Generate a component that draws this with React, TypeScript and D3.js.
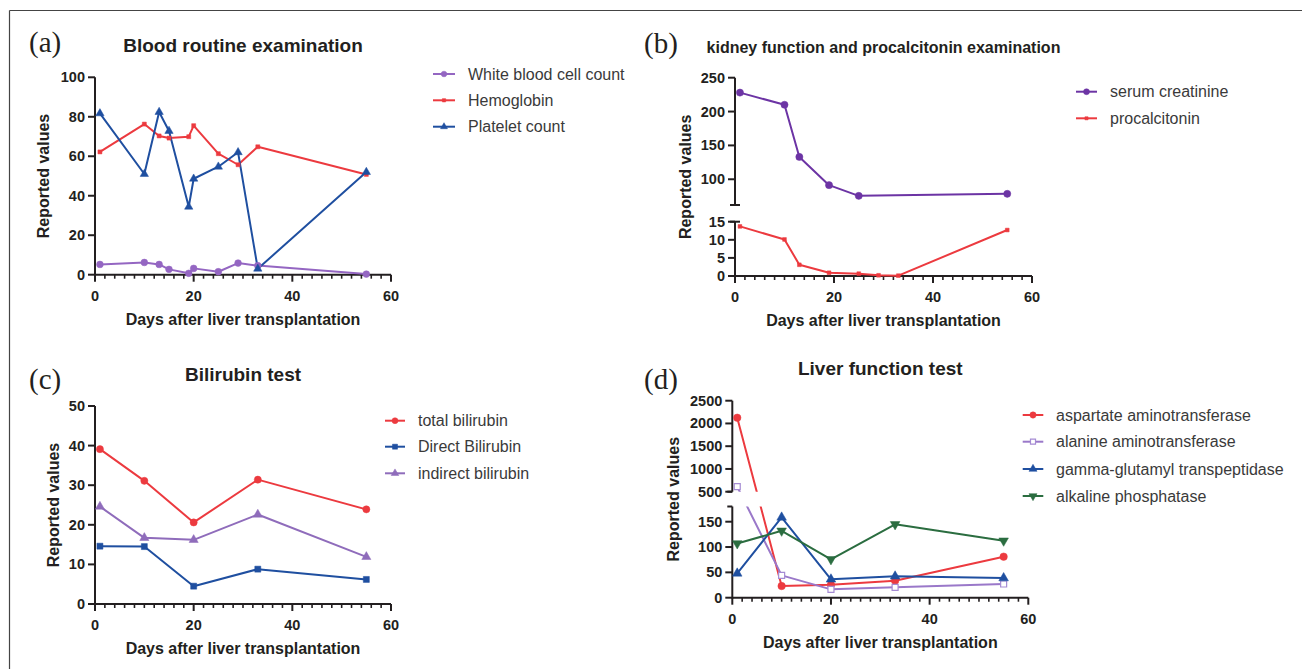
import React from 'react';
import * as d3 from 'd3';

const FONT = "'Liberation Sans', Arial, Helvetica, sans-serif";
const SERIF = "'Liberation Serif', 'Times New Roman', serif";
const INK = '#231f20';
const LEGEND_INK = '#3a3a3a';

const RED = '#ec3a3f';
const BLUE = '#1f4fa0';
const PURPLE = '#9466c2';
const DPURPLE = '#6c34a4';
const LPURPLE = '#a58bd3';
const GREEN = '#2b6d40';

// ---------- data ----------
const X_TICKS = [0, 20, 40, 60];

// (a) Blood routine examination
const A_DAYS = [1, 10, 13, 15, 19, 20, 25, 29, 33, 55];
const WBC = [5.2, 6.2, 5.2, 2.7, 0.7, 3.2, 1.5, 5.9, 4.6, 0.3];
const HGB = [62.2, 76.3, 70.3, 69.2, 69.9, 75.5, 61.3, 55.7, 64.8, 50.8];
const PLT = [81.7, 51, 82.4, 72.8, 34.4, 48.6, 54.7, 62, 3.0, 52];
const A_YTICKS = [0, 20, 40, 60, 80, 100];

// (b) kidney function and procalcitonin
const CREA_DAYS = [1, 10, 13, 19, 25, 55];
const CREA = [228, 210, 133, 91.3, 75.5, 78.5];
const PCT_DAYS = [1, 10, 13, 19, 25, 29, 33, 55];
const PCT = [13.7, 10.1, 3.1, 0.9, 0.65, 0.2, 0.1, 12.7];
const B_LOW_TICKS = [0, 5, 10, 15];
const B_HIGH_TICKS = [100, 150, 200, 250];

// (c) Bilirubin test
const C_DAYS = [1, 10, 20, 33, 55];
const TBIL = [39.1, 31.1, 20.6, 31.4, 23.9];
const DBIL = [14.6, 14.5, 4.5, 8.8, 6.2];
const IBIL = [24.6, 16.7, 16.2, 22.6, 11.9];
const C_YTICKS = [0, 10, 20, 30, 40, 50];

// (d) Liver function test
const D_DAYS = [1, 10, 20, 33, 55];
const AST = [2126, 23, 25.6, 33.5, 81];
const ALT = [610, 44, 16.5, 20.5, 27];
const GGT = [48, 158.5, 36.3, 42.2, 38.8];
const ALP = [107, 132, 75.7, 144.8, 112.4];
const D_LOW_TICKS = [0, 50, 100, 150];
const D_HIGH_TICKS = [500, 1000, 1500, 2000, 2500];

// ---------- types ----------
type Shape = 'circle' | 'square' | 'squareOpen' | 'triangle' | 'triangleDown';
interface Series {
  name: string;
  days: number[];
  values: number[];
  color: string;
  shape: Shape;
  size: number;
  markerColor?: string;
}
interface Seg {
  domain: [number, number];
  range: [number, number]; // [bottom px, top px]
  ticks: number[];
}
interface PanelCfg {
  id: string;
  tag: string;
  tagX: number;
  tagY: number;
  title: string;
  titleSize: number;
  titleY: number;
  x0: number;
  x1: number;
  axisY: number;
  segs: Seg[];
  capStyle: 'both' | 'left';
  ylabelX: number;
  series: Series[];
  legend: { lx0: number; lx1: number; tx: number; rows: number[] };
}

function symbolPath(shape: Shape, size: number): string {
  const t =
    shape === 'circle'
      ? d3.symbolCircle
      : shape === 'square' || shape === 'squareOpen'
      ? d3.symbolSquare
      : d3.symbolTriangle;
  return d3.symbol().type(t).size(size)() || '';
}

function Marker({ s, x, y, scale = 1 }: { s: Series; x: number; y: number; scale?: number }) {
  const p = symbolPath(s.shape, s.size * scale);
  const rot = s.shape === 'triangleDown' ? ' rotate(180)' : '';
  const open = s.shape === 'squareOpen';
  const mc = s.markerColor || s.color;
  return (
    <path
      d={p}
      transform={`translate(${x},${y})${rot}`}
      fill={open ? '#ffffff' : mc}
      stroke={mc}
      strokeWidth={open ? 1.2 : 0.5}
    />
  );
}

function Panel({ cfg }: { cfg: PanelCfg }) {
  const x = d3.scaleLinear().domain([0, 60]).range([cfg.x0, cfg.x1]);
  const scales = cfg.segs.map((s) => d3.scaleLinear().domain(s.domain).range(s.range));
  const yOf = (v: number) => {
    if (scales.length === 1) return scales[0](v);
    return v <= cfg.segs[0].domain[1] ? scales[0](v) : scales[1](v);
  };
  const ax = cfg.x0;
  const minor = d3.range(0, 61, 2).filter((d) => d % 20 !== 0);
  const line = d3
    .line<[number, number]>()
    .x((d) => x(d[0]))
    .y((d) => yOf(d[1]));
  const clipId = `clip-${cfg.id}`;
  const yTop = cfg.segs[cfg.segs.length - 1].range[1];
  const yMid = (cfg.axisY + yTop) / 2;
  const xMid = (cfg.x0 + cfg.x1) / 2;

  return (
    <g>
      <defs>
        <clipPath id={clipId}>
          {cfg.segs.length === 1 ? (
            <rect x={0} y={0} width={1305} height={669} />
          ) : (
            <>
              <rect x={0} y={cfg.segs[0].range[1]} width={1305} height={cfg.segs[0].range[0] - cfg.segs[0].range[1] + 30} />
              <rect x={0} y={0} width={1305} height={cfg.segs[1].range[0]} />
            </>
          )}
        </clipPath>
      </defs>

      {/* tag and title */}
      <text x={cfg.tagX} y={cfg.tagY} fontFamily={SERIF} fontSize={29} fill={INK}>
        {cfg.tag}
      </text>
      <text
        x={xMid}
        y={cfg.titleY}
        textAnchor="middle"
        fontFamily={FONT}
        fontWeight="bold"
        fontSize={cfg.titleSize}
        fill={INK}
      >
        {cfg.title}
      </text>

      {/* x axis */}
      <line x1={cfg.x0} x2={cfg.x1} y1={cfg.axisY} y2={cfg.axisY} stroke={INK} strokeWidth={2} />
      {X_TICKS.map((t) => (
        <g key={`xt${t}`}>
          <line x1={x(t)} x2={x(t)} y1={cfg.axisY} y2={cfg.axisY + 7} stroke={INK} strokeWidth={2} />
          <text
            x={x(t)}
            y={cfg.axisY + 26}
            textAnchor="middle"
            fontFamily={FONT}
            fontWeight="bold"
            fontSize={14.5}
            fill={INK}
          >
            {t}
          </text>
        </g>
      ))}
      {minor.map((t) => (
        <line key={`xm${t}`} x1={x(t)} x2={x(t)} y1={cfg.axisY} y2={cfg.axisY + 4} stroke={INK} strokeWidth={1.6} />
      ))}
      <text
        x={xMid}
        y={cfg.axisY + 50}
        textAnchor="middle"
        fontFamily={FONT}
        fontWeight="bold"
        fontSize={16}
        fill={INK}
      >
        Days after liver transplantation
      </text>

      {/* y axis segments */}
      {cfg.segs.map((s, i) => {
        const sc = scales[i];
        const broken = cfg.segs.length > 1;
        const capY = broken ? (i === 0 ? s.range[1] : s.range[0]) : null;
        return (
          <g key={`seg${i}`}>
            <line x1={ax} x2={ax} y1={s.range[0] + (i === 0 ? 1 : 0)} y2={s.range[1]} stroke={INK} strokeWidth={2} />
            {capY !== null && (
              <line
                x1={ax - 5}
                x2={cfg.capStyle === 'both' ? ax + 5 : ax}
                y1={capY}
                y2={capY}
                stroke={INK}
                strokeWidth={2}
              />
            )}
            {s.ticks.map((t) => (
              <g key={`yt${t}`}>
                <line x1={ax - 7} x2={ax} y1={sc(t)} y2={sc(t)} stroke={INK} strokeWidth={2} />
                <text
                  x={ax - 10}
                  y={sc(t) + 5}
                  textAnchor="end"
                  fontFamily={FONT}
                  fontWeight="bold"
                  fontSize={14.5}
                  fill={INK}
                >
                  {t}
                </text>
              </g>
            ))}
          </g>
        );
      })}
      <text
        transform={`translate(${cfg.ylabelX},${yMid}) rotate(-90)`}
        textAnchor="middle"
        fontFamily={FONT}
        fontWeight="bold"
        fontSize={16}
        fill={INK}
      >
        Reported values
      </text>

      {/* data */}
      <g clipPath={`url(#${clipId})`}>
        {cfg.series.map((s) => (
          <path
            key={`l-${s.name}`}
            d={line(s.days.map((d, i) => [d, s.values[i]] as [number, number])) || ''}
            fill="none"
            stroke={s.color}
            strokeWidth={2}
            strokeLinejoin="round"
          />
        ))}
      </g>
      {cfg.series.map((s) => (
        <g key={`m-${s.name}`}>
          {s.days.map((d, i) => (
            <Marker key={i} s={s} x={x(d)} y={yOf(s.values[i])} />
          ))}
        </g>
      ))}

      {/* legend */}
      {cfg.series.map((s, i) => {
        const ry = cfg.legend.rows[i];
        const mx = (cfg.legend.lx0 + cfg.legend.lx1) / 2;
        return (
          <g key={`lg-${s.name}`}>
            <line x1={cfg.legend.lx0} x2={cfg.legend.lx1} y1={ry} y2={ry} stroke={s.color} strokeWidth={2} />
            <Marker s={s} x={mx} y={ry} scale={0.7} />
            <text x={cfg.legend.tx} y={ry + 5.5} fontFamily={FONT} fontSize={16} fill={LEGEND_INK}>
              {s.name}
            </text>
          </g>
        );
      })}
    </g>
  );
}

const PANELS: PanelCfg[] = [
  {
    id: 'a',
    tag: '(a)',
    tagX: 29,
    tagY: 52,
    title: 'Blood routine examination',
    titleSize: 19,
    titleY: 52,
    x0: 95,
    x1: 391,
    axisY: 274.7,
    segs: [{ domain: [0, 100], range: [274.7, 77.3], ticks: A_YTICKS }],
    capStyle: 'left',
    ylabelX: 49,
    series: [
      { name: 'White blood cell count', days: A_DAYS, values: WBC, color: PURPLE, shape: 'circle', size: 36 },
      { name: 'Hemoglobin', days: A_DAYS, values: HGB, color: RED, shape: 'square', size: 16 },
      { name: 'Platelet count', days: A_DAYS, values: PLT, color: BLUE, shape: 'triangle', size: 30 },
    ],
    legend: { lx0: 433, lx1: 455, tx: 468, rows: [74, 100.3, 126.7] },
  },
  {
    id: 'b',
    tag: '(b)',
    tagX: 644,
    tagY: 53,
    title: 'kidney function and procalcitonin examination',
    titleSize: 16,
    titleY: 53,
    x0: 735,
    x1: 1032,
    axisY: 276,
    segs: [
      { domain: [0, 15], range: [276, 221.7], ticks: B_LOW_TICKS },
      { domain: [62, 250], range: [205, 77.7], ticks: B_HIGH_TICKS },
    ],
    capStyle: 'both',
    ylabelX: 690.5,
    series: [
      { name: 'serum creatinine', days: CREA_DAYS, values: CREA, color: DPURPLE, shape: 'circle', size: 40 },
      { name: 'procalcitonin', days: PCT_DAYS, values: PCT, color: RED, shape: 'square', size: 14 },
    ],
    legend: { lx0: 1076, lx1: 1097, tx: 1110, rows: [91.7, 118.3] },
  },
  {
    id: 'c',
    tag: '(c)',
    tagX: 29,
    tagY: 389,
    title: 'Bilirubin test',
    titleSize: 19,
    titleY: 381,
    x0: 95,
    x1: 391,
    axisY: 604,
    segs: [{ domain: [0, 50], range: [604, 406], ticks: C_YTICKS }],
    capStyle: 'left',
    ylabelX: 59,
    series: [
      { name: 'total bilirubin', days: C_DAYS, values: TBIL, color: RED, shape: 'circle', size: 40 },
      { name: 'Direct Bilirubin', days: C_DAYS, values: DBIL, color: BLUE, shape: 'square', size: 36 },
      { name: 'indirect bilirubin', days: C_DAYS, values: IBIL, color: '#8f6cbb', shape: 'triangle', size: 36 },
    ],
    legend: { lx0: 385, lx1: 405, tx: 418, rows: [420.7, 446.7, 473.3] },
  },
  {
    id: 'd',
    tag: '(d)',
    tagX: 644,
    tagY: 389,
    title: 'Liver function test',
    titleSize: 19,
    titleY: 375,
    x0: 732.3,
    x1: 1028.3,
    axisY: 597.7,
    segs: [
      { domain: [0, 180], range: [597.7, 506.5], ticks: D_LOW_TICKS },
      { domain: [500, 2500], range: [491.7, 400.7], ticks: D_HIGH_TICKS },
    ],
    capStyle: 'left',
    ylabelX: 678.5,
    series: [
      { name: 'aspartate aminotransferase', days: D_DAYS, values: AST, color: RED, shape: 'circle', size: 44 },
      {
        name: 'alanine aminotransferase',
        days: D_DAYS,
        values: ALT,
        color: '#9a78c9',
        markerColor: LPURPLE,
        shape: 'squareOpen',
        size: 36,
      },
      { name: 'gamma-glutamyl transpeptidase', days: D_DAYS, values: GGT, color: BLUE, shape: 'triangle', size: 40 },
      { name: 'alkaline phosphatase', days: D_DAYS, values: ALP, color: GREEN, shape: 'triangleDown', size: 40 },
    ],
    legend: { lx0: 1022.7, lx1: 1043.3, tx: 1056, rows: [415, 441.7, 469, 496] },
  },
];

export default function App() {
  return (
    <svg
      width={1305}
      height={669}
      viewBox="0 0 1305 669"
      style={{ position: 'absolute', left: 0, top: 0, background: '#ffffff' }}
    >
      <rect x={0} y={0} width={1305} height={669} fill="#ffffff" />
      <line x1={9.5} x2={9.5} y1={10.5} y2={669} stroke="#444" strokeWidth={1.2} />
      <line x1={9.5} x2={1302} y1={10.5} y2={10.5} stroke="#444" strokeWidth={1.2} />
      {PANELS.map((p) => (
        <Panel key={p.id} cfg={p} />
      ))}
    </svg>
  );
}
